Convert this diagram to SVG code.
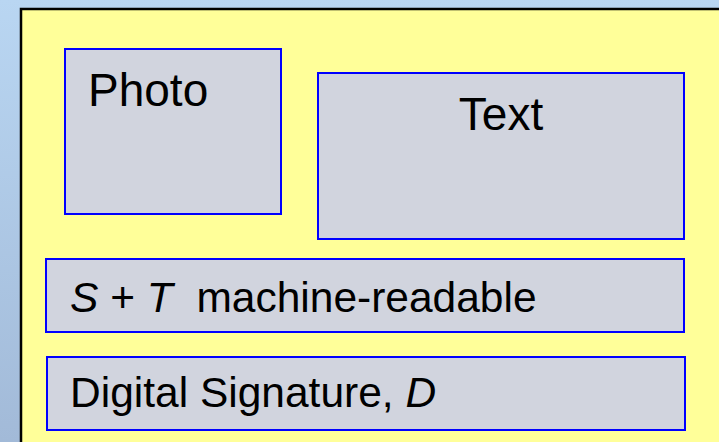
<svg xmlns="http://www.w3.org/2000/svg" width="719" height="442" viewBox="0 0 719 442">
<defs>
<linearGradient id="bg" x1="0" y1="0" x2="0" y2="1">
<stop offset="0" stop-color="#B9D6F2"/>
<stop offset="1" stop-color="#A2BAD8"/>
</linearGradient>
</defs>
<style>
.box{fill:#D1D4DE;stroke:#0000FF;stroke-width:2}
.lbl{font-family:"Liberation Sans",Arial,sans-serif;fill:#000}
</style>
<rect x="0" y="0" width="719" height="442" fill="url(#bg)"/>
<rect id="card" x="21" y="9" width="720" height="450" fill="#FFFF99" stroke="#000" stroke-width="2.5"/>
<g id="photo">
<rect class="box" x="65" y="49" width="216" height="165"/>
<text class="lbl" x="88" y="106" font-size="46">Photo</text>
</g>
<g id="text">
<rect class="box" x="318" y="73" width="366" height="166"/>
<text class="lbl" x="501" y="130" font-size="46" text-anchor="middle">Text</text>
</g>
<g id="mrz">
<rect class="box" x="46" y="259" width="638" height="73"/>
<text class="lbl" x="70" y="312" font-size="42.5"><tspan font-style="italic">S</tspan> + <tspan font-style="italic">T</tspan>&#160; machine-readable</text>
</g>
<g id="signature">
<rect class="box" x="47" y="357" width="638" height="73"/>
<text class="lbl" x="70" y="407" font-size="42.5">Digital Signature, <tspan font-style="italic">D</tspan></text>
</g>
<g id="connectors"/>
</svg>
